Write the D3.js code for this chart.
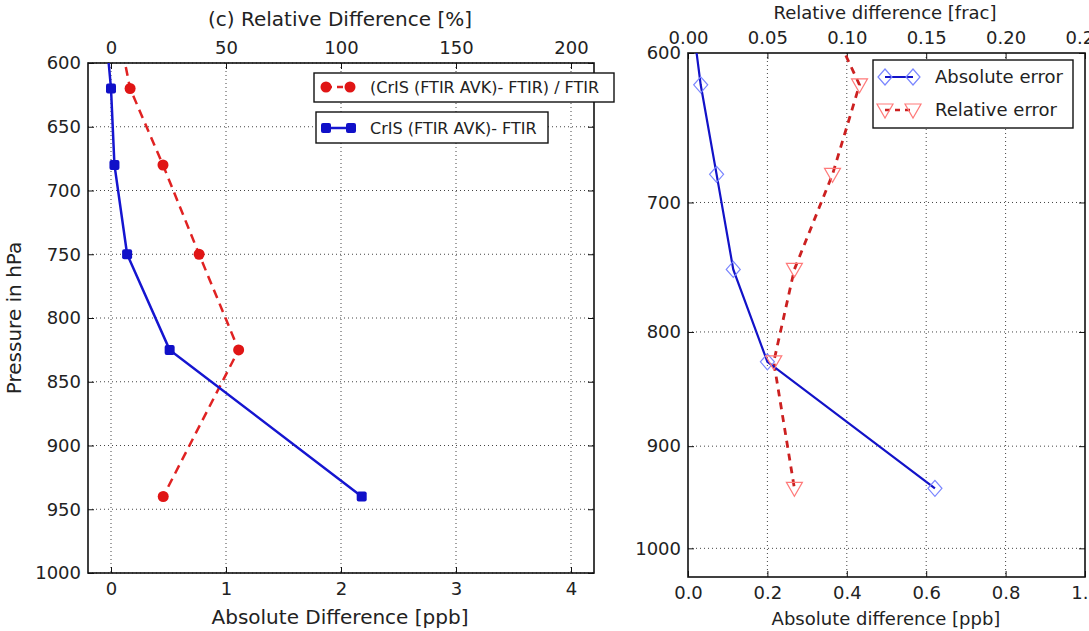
<!DOCTYPE html>
<html>
<head>
<meta charset="utf-8">
<script src="https://cdn.jsdelivr.net/npm/d3@7"></script>
<style>
  html, body { margin: 0; padding: 0; background: #fff; }
  svg { display: block; font-family: "DejaVu Sans", sans-serif; }
  .tick text { fill: #222; }
</style>
</head>
<body>
<svg id="chart" width="1089" height="631"></svg>
<script>
// Panel (c): CrIS vs FTIR differences on pressure levels
const pressureL = [580, 620, 680, 750, 825, 940];
const absDiffPpb = [-0.04, 0.0, 0.03, 0.14, 0.51, 2.18];
const relDiffPct = [3.9, 8.3, 22.6, 38.3, 55.5, 22.7];

// Error profile panel
const pressureR = [580, 620, 680, 750, 825, 940];
const absErrPpb = [0.011, 0.032, 0.072, 0.114, 0.2, 0.622];
const relErrFrac = [0.089, 0.108, 0.091, 0.067, 0.054, 0.067];

// Tick values
const pTicksL = [600, 650, 700, 750, 800, 850, 900, 950, 1000];
const absTicksL = [0, 1, 2, 3, 4];
const relTicksL = [0, 50, 100, 150, 200];
const pTicksR = [600, 700, 800, 900, 1000];
const absTicksR = [0, 0.2, 0.4, 0.6, 0.8, 1.0];
const relTicksR = [0, 0.05, 0.10, 0.15, 0.20, 0.25];

// Legend labels
const legendL1 = "(CrIS (FTIR AVK)- FTIR) / FTIR";
const legendL2 = "CrIS (FTIR AVK)- FTIR";
const legendR = ["Absolute error", "Relative error"];

const svg = d3.select("#chart");

const L = { left: 88, right: 594, top: 63, bottom: 573 };
const R = { left: 688, right: 1085, top: 53, bottom: 577 };

const xAbsL = d3.scaleLinear([-0.2, 4.2], [L.left, L.right]);
const xRelL = d3.scaleLinear([-10, 210], [L.left, L.right]);
const yL = d3.scaleLinear([600, 1000], [L.top, L.bottom]);

const xAbsR = d3.scaleLinear([0, 1], [R.left, R.right]);
const xRelR = d3.scaleLinear([0, 0.25], [R.left, R.right]);
const yR = d3.scaleLog([600, 1030], [R.top, R.bottom]);

const defs = svg.append("defs");
function clip(id, b) {
  defs.append("clipPath").attr("id", id).append("rect")
    .attr("x", b.left).attr("y", b.top)
    .attr("width", b.right - b.left).attr("height", b.bottom - b.top);
}
clip("clipL", L);
clip("clipR", R);

function grid(b, xs, xv, ys, yv) {
  const g = svg.append("g").attr("stroke", "#444").attr("stroke-width", 1)
    .attr("stroke-dasharray", "1,3");
  g.selectAll(".gx").data(xv).join("line")
    .attr("x1", d => xs(d)).attr("x2", d => xs(d))
    .attr("y1", b.top).attr("y2", b.bottom);
  g.selectAll(".gy").data(yv).join("line")
    .attr("y1", d => ys(d)).attr("y2", d => ys(d))
    .attr("x1", b.left).attr("x2", b.right);
}
grid(L, xAbsL, absTicksL, yL, pTicksL);
grid(R, xAbsR, absTicksR.slice(1, -1), yR, pTicksR.slice(1));

function axes(b, xb, xbTicks, xbFmt, xt, xtTicks, xtFmt, y, yTicks) {
  const fs = "18px";
  const gB = svg.append("g").attr("transform", `translate(0,${b.bottom})`)
    .call(d3.axisBottom(xb).tickValues(xbTicks).tickFormat(xbFmt).tickSize(-6).tickPadding(9));
  const gT = svg.append("g").attr("transform", `translate(0,${b.top})`)
    .call(d3.axisTop(xt).tickValues(xtTicks).tickFormat(xtFmt).tickSize(-6).tickPadding(9));
  const gLf = svg.append("g").attr("transform", `translate(${b.left},0)`)
    .call(d3.axisLeft(y).tickValues(yTicks).tickFormat(d3.format("d")).tickSize(-6).tickPadding(7));
  const gRt = svg.append("g").attr("transform", `translate(${b.right},0)`)
    .call(d3.axisRight(y).tickValues(yTicks).tickFormat("").tickSize(-6));
  [gB, gT, gLf, gRt].forEach(g => {
    g.selectAll(".domain").remove();
    g.selectAll(".tick line").attr("stroke", "#111").attr("stroke-width", 1);
    g.selectAll("text").attr("font-size", fs).attr("font-family", "DejaVu Sans");
  });
  svg.append("rect").attr("x", b.left).attr("y", b.top)
    .attr("width", b.right - b.left).attr("height", b.bottom - b.top)
    .attr("fill", "none").attr("stroke", "#111").attr("stroke-width", 1.6);
}

axes(L, xAbsL, absTicksL, d3.format("d"), xRelL, relTicksL, d3.format("d"), yL, pTicksL);
axes(R, xAbsR, absTicksR, d3.format(".1f"), xRelR, relTicksR, d3.format(".2f"), yR, pTicksR);

// ---- Left panel lines and markers ----
const gL = svg.append("g").attr("clip-path", "url(#clipL)");
const idxL = d3.range(pressureL.length);
const visL = idxL.filter(i => pressureL[i] >= 600);

gL.append("path")
  .attr("d", d3.line().x(i => xRelL(relDiffPct[i])).y(i => yL(pressureL[i]))(idxL))
  .attr("fill", "none").attr("stroke", "#e02222").attr("stroke-width", 2.5)
  .attr("stroke-dasharray", "9,6");
gL.append("path")
  .attr("d", d3.line().x(i => xAbsL(absDiffPpb[i])).y(i => yL(pressureL[i]))(idxL))
  .attr("fill", "none").attr("stroke", "#1515d0").attr("stroke-width", 2.5);
gL.selectAll(".mr").data(visL).join("circle")
  .attr("cx", i => xRelL(relDiffPct[i])).attr("cy", i => yL(pressureL[i]))
  .attr("r", 5.5).attr("fill", "#e01515");
gL.selectAll(".mb").data(visL).join("rect")
  .attr("x", i => xAbsL(absDiffPpb[i]) - 5).attr("y", i => yL(pressureL[i]) - 5)
  .attr("width", 10).attr("height", 10).attr("rx", 2).attr("fill", "#1010c8");

// ---- Right panel lines and markers ----
const gR = svg.append("g").attr("clip-path", "url(#clipR)");
const idxR = d3.range(pressureR.length);
const visR = idxR.filter(i => pressureR[i] >= 600);

gR.append("path")
  .attr("d", d3.line().x(i => xRelR(relErrFrac[i])).y(i => yR(pressureR[i]))(idxR))
  .attr("fill", "none").attr("stroke", "#cc2020").attr("stroke-width", 2.8)
  .attr("stroke-dasharray", "7,6");
gR.append("path")
  .attr("d", d3.line().x(i => xAbsR(absErrPpb[i])).y(i => yR(pressureR[i]))(idxR))
  .attr("fill", "none").attr("stroke", "#1212c8").attr("stroke-width", 2.2);

const diamond = (cx, cy) => `M${cx},${cy - 8}L${cx + 7},${cy}L${cx},${cy + 8}L${cx - 7},${cy}Z`;
const triDown = (cx, cy) => `M${cx - 8},${cy - 6}L${cx + 8},${cy - 6}L${cx},${cy + 8}Z`;

gR.selectAll(".md").data(visR).join("path")
  .attr("d", i => diamond(xAbsR(absErrPpb[i]), yR(pressureR[i])))
  .attr("fill", "none").attr("stroke", "#7a86ff").attr("stroke-width", 1.2);
gR.selectAll(".mt").data(visR).join("path")
  .attr("d", i => triDown(xRelR(relErrFrac[i]), yR(pressureR[i])))
  .attr("fill", "none").attr("stroke", "#ff7a7a").attr("stroke-width", 1.2);

// ---- Legends ----
function box(x, y, w, h) {
  svg.append("rect").attr("x", x).attr("y", y).attr("width", w).attr("height", h)
    .attr("fill", "#fff").attr("stroke", "#111").attr("stroke-width", 1.4);
}
// left legend 1
box(314, 73, 300, 29);
svg.append("line").attr("x1", 326).attr("x2", 350).attr("y1", 87).attr("y2", 87)
  .attr("stroke", "#e02222").attr("stroke-width", 2.5).attr("stroke-dasharray", "6,5");
[326, 350].forEach(cx => svg.append("circle").attr("cx", cx).attr("cy", 87).attr("r", 5.5).attr("fill", "#e01515"));
svg.append("text").attr("x", 370).attr("y", 93).attr("font-size", "16px").attr("fill", "#222").text(legendL1);
// left legend 2
box(316, 112, 232, 31);
svg.append("line").attr("x1", 326).attr("x2", 351).attr("y1", 128).attr("y2", 128)
  .attr("stroke", "#1515d0").attr("stroke-width", 2.5);
[326, 351].forEach(cx => svg.append("rect").attr("x", cx - 5).attr("y", 123).attr("width", 10).attr("height", 10).attr("rx", 2).attr("fill", "#1010c8"));
svg.append("text").attr("x", 370).attr("y", 134).attr("font-size", "16px").attr("fill", "#222").text(legendL2);
// right legend
box(873, 60, 200, 68);
svg.append("line").attr("x1", 885).attr("x2", 913).attr("y1", 77).attr("y2", 77)
  .attr("stroke", "#1212c8").attr("stroke-width", 2);
[885, 913].forEach(cx => svg.append("path").attr("d", diamond(cx, 77)).attr("fill", "none").attr("stroke", "#7a86ff").attr("stroke-width", 1.2));
svg.append("line").attr("x1", 885).attr("x2", 913).attr("y1", 110).attr("y2", 110)
  .attr("stroke", "#cc2020").attr("stroke-width", 2.5).attr("stroke-dasharray", "5,5");
[885, 913].forEach(cx => svg.append("path").attr("d", triDown(cx, 110)).attr("fill", "none").attr("stroke", "#ff7a7a").attr("stroke-width", 1.2));
legendR.forEach((t, k) => svg.append("text").attr("x", 935).attr("y", 83 + k * 33)
  .attr("font-size", "18px").attr("fill", "#222").text(t));

// ---- Axis titles ----
function title(x, y, t, size, rot) {
  const e = svg.append("text").attr("text-anchor", "middle").attr("font-size", size)
    .attr("fill", "#222").text(t);
  if (rot) e.attr("transform", `translate(${x},${y}) rotate(-90)`);
  else e.attr("x", x).attr("y", y);
}
title(340, 26, "(c)  Relative Difference [%]", "20px");
title(340, 624, "Absolute Difference [ppb]", "20px");
title(21, 318, "Pressure in hPa", "20px", true);
title(885, 19, "Relative difference [frac]", "18px");
title(886, 625, "Absolute difference [ppb]", "18px");
</script>
</body>
</html>
